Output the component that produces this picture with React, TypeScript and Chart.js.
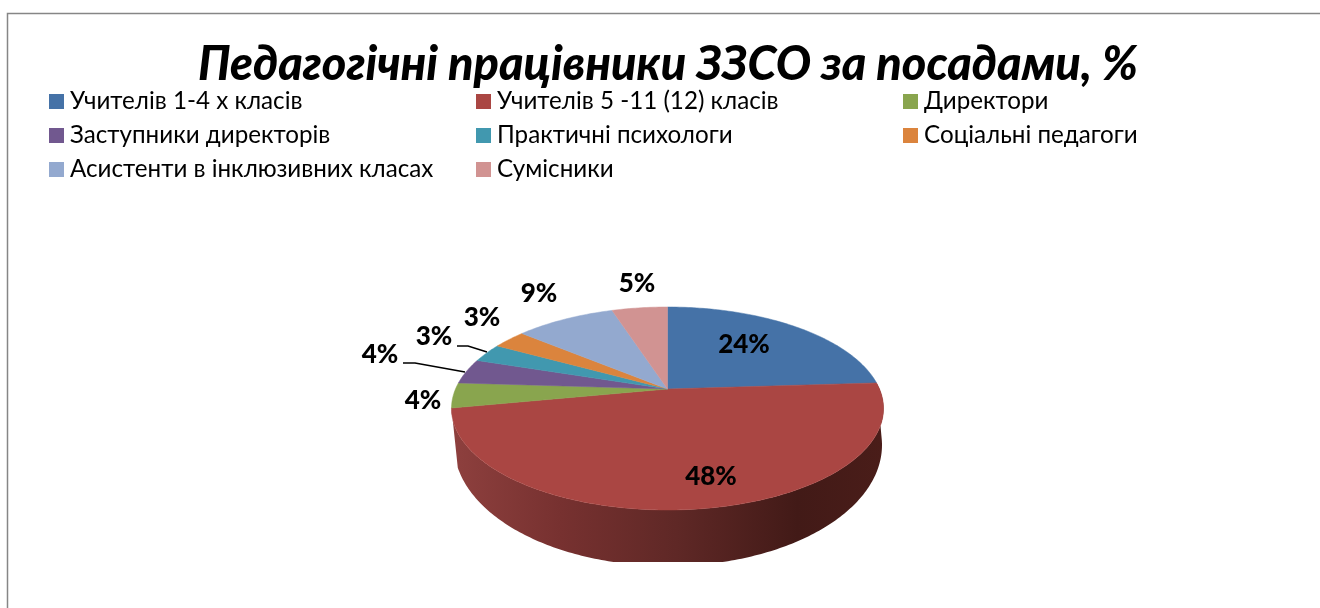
import React, { useEffect, useRef } from "react";
import { Chart, registerables } from "chart.js";

Chart.register(...registerables);

const titleText = "Педагогічні працівники ЗЗСО за посадами, %";
const categories = [
  "Учителів 1-4 х класів",
  "Учителів 5 -11 (12) класів",
  "Директори",
  "Заступники директорів",
  "Практичні психологи",
  "Соціальні педагоги",
  "Асистенти в інклюзивних класах",
  "Сумісники",
];
const shares = [24, 48, 4, 4, 3, 3, 9, 5];
const sliceColors = ["#4572A7", "#AA4643", "#89A54E", "#71588F", "#4198AF", "#DB843D", "#93A9CF", "#D19392"];

// Layout of the non-data decorations
const LABEL_FONT = "900 26px Lato, 'Open Sans', sans-serif";
const LEGEND_FONT = "24.2px Lato, 'Open Sans', sans-serif";
const labelAnchors = [[744, 345], [711, 477], [423, 401], [380, 355], [434, 337], [482, 318], [539, 294], [637, 284]];
const legendCols = [49, 476, 903];
const legendRows = [94, 128, 162];
const leaders = [
  [[403, 363], [415, 363], [465, 372]],
  [[457, 346], [468, 346], [487, 352]],
];

// Perspective of the top face
const APEX = { x: 667.5, y: 389 };
const P = { A: 212, B: 97.75, c: -0.192 };
const WALL = { x: 668, y: 445, rx: 214, ry: 121, clipY: 562 };

const topPoint = (t: number) => {
  const u = Math.sin(t), v = -Math.cos(t);
  const w = 1 + P.c * v;
  return [APEX.x + (P.A * u) / w, APEX.y + (P.B * v) / w];
};
const wallPoint = (t: number) => [WALL.x + WALL.rx * Math.sin(t), WALL.y - WALL.ry * Math.cos(t)];

const tiltedPie = {
  id: "tiltedPie",
  beforeDatasetsDraw(chart: any) {
    const ctx = chart.ctx as CanvasRenderingContext2D;
    const arcs = chart.getDatasetMeta(0).data as any[];
    const colors = chart.data.datasets[0].backgroundColor as string[];
    const range = (a: any) => {
      const s = a.startAngle + Math.PI / 2, e = a.endAngle + Math.PI / 2;
      const n = Math.max(2, Math.ceil((e - s) * 60));
      return Array.from({ length: n + 1 }, (_, i) => s + ((e - s) * i) / n);
    };

    // Outer wall
    ctx.save();
    ctx.beginPath();
    ctx.rect(0, 0, chart.width, WALL.clipY);
    ctx.clip();
    const grad = ctx.createLinearGradient(452, 0, 884, 0);
    grad.addColorStop(0, "#8E403E");
    grad.addColorStop(0.25, "#773130");
    grad.addColorStop(0.52, "#5F2826");
    grad.addColorStop(0.8, "#421A17");
    grad.addColorStop(1, "#4A1D19");
    arcs.forEach((arc) => {
      const mid = (arc.startAngle + arc.endAngle) / 2 + Math.PI / 2;
      if (-Math.cos(mid) < 0.2) return;
      const ts = range(arc);
      ctx.beginPath();
      ts.forEach((t, i) => {
        const [x, y] = topPoint(t);
        if (i === 0) ctx.moveTo(x, y); else ctx.lineTo(x, y);
      });
      [...ts].reverse().forEach((t) => {
        const [x, y] = wallPoint(t);
        ctx.lineTo(x, y);
      });
      ctx.closePath();
      ctx.fillStyle = grad;
      ctx.fill();
    });
    ctx.restore();

    // Top faces
    arcs.forEach((arc, idx) => {
      ctx.beginPath();
      ctx.moveTo(APEX.x, APEX.y);
      range(arc).forEach((t) => {
        const [x, y] = topPoint(t);
        ctx.lineTo(x, y);
      });
      ctx.closePath();
      ctx.fillStyle = colors[idx];
      ctx.strokeStyle = colors[idx];
      ctx.lineWidth = 0.5;
      ctx.fill();
      ctx.stroke();
    });
    return false;
  },
  afterDraw(chart: any) {
    const ctx = chart.ctx as CanvasRenderingContext2D;
    const colors = chart.data.datasets[0].backgroundColor as string[];
    ctx.save();

    // Frame (open on the right and bottom, as cropped)
    ctx.strokeStyle = "#868686";
    ctx.lineWidth = 1.5;
    ctx.beginPath();
    ctx.moveTo(7.5, chart.height);
    ctx.lineTo(7.5, 13.5);
    ctx.lineTo(chart.width, 13.5);
    ctx.stroke();

    // Legend
    ctx.textBaseline = "alphabetic";
    ctx.textAlign = "left";
    ctx.font = LEGEND_FONT;
    (chart.data.labels as string[]).forEach((label, i) => {
      const x = legendCols[i % 3], y = legendRows[Math.floor(i / 3)];
      ctx.fillStyle = colors[i];
      ctx.fillRect(x, y, 15, 15);
      ctx.fillStyle = "#000";
      ctx.fillText(label, x + 21, y + 15);
    });

    // Leader lines
    ctx.strokeStyle = "#000";
    ctx.lineWidth = 1.5;
    leaders.forEach((pts) => {
      ctx.beginPath();
      pts.forEach(([x, y], i) => (i === 0 ? ctx.moveTo(x, y) : ctx.lineTo(x, y)));
      ctx.stroke();
    });

    // Value labels
    ctx.font = LABEL_FONT;
    ctx.textAlign = "center";
    ctx.textBaseline = "middle";
    ctx.fillStyle = "#000";
    (chart.data.datasets[0].data as number[]).forEach((v, i) => {
      ctx.fillText(`${v}%`, labelAnchors[i][0], labelAnchors[i][1]);
    });
    ctx.restore();
  },
};

export default function App() {
  const ref = useRef<HTMLCanvasElement>(null);
  useEffect(() => {
    document.body.style.margin = "0";
    document.body.style.background = "#fff";
    const chart = new Chart(ref.current!, {
      type: "pie",
      data: {
        labels: categories,
        datasets: [{ data: shares, backgroundColor: sliceColors, borderWidth: 0 }],
      },
      options: {
        responsive: false,
        animation: false,
        layout: { padding: { left: 16, top: 37, right: 0, bottom: 100 } },
        plugins: {
          legend: { display: false },
          tooltip: { enabled: false },
          title: {
            display: true,
            text: titleText,
            color: "#000",
            align: "center",
            font: { family: "Lato, 'Open Sans', sans-serif", size: 46.8, weight: "900", style: "italic" },
            padding: { top: 0, bottom: 0 },
          },
        },
      },
      plugins: [tiltedPie],
    } as any);
    return () => chart.destroy();
  }, []);
  return <canvas ref={ref} width={1320} height={608} style={{ display: "block", width: 1320, height: 608 }} />;
}
